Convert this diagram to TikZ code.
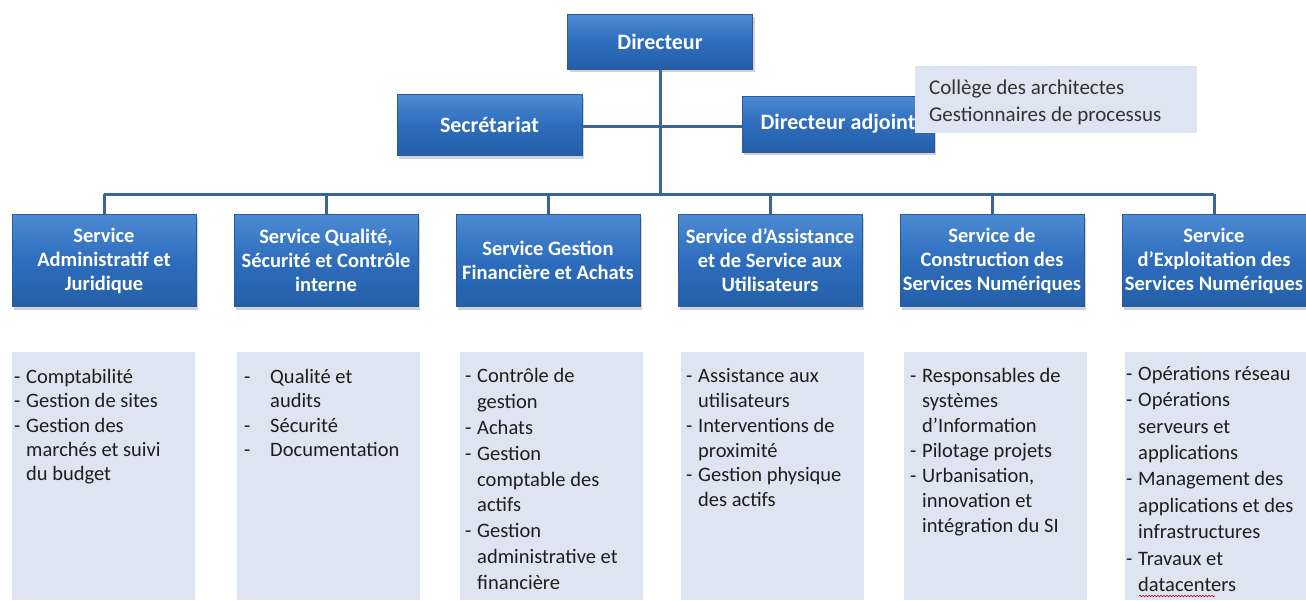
\documentclass[tikz,border=0pt]{standalone}
\usepackage{fontspec}
\setmainfont{Carlito}
\usetikzlibrary{shadows,decorations.pathmorphing}
\definecolor{linec}{HTML}{3A6598}
\definecolor{boxtop}{HTML}{4C8AD2}
\definecolor{boxmid}{HTML}{2E6DBD}
\definecolor{boxbot}{HTML}{245FA8}
\definecolor{boxedge}{HTML}{2A5C9A}
\definecolor{lightbg}{HTML}{DCE5F1}
\definecolor{txtc}{HTML}{1E1E1E}
\newcommand\dsh{\makebox[12pt][l]{-}}
\newcommand\ind{\hspace*{12pt}}
\newcommand\dshw{\makebox[26pt][l]{-}}
\newcommand\indw{\hspace*{26pt}}
\begin{document}
\begin{tikzpicture}[x=1pt,y=-1pt,
  darkbox/.style={draw=boxedge,line width=0.6pt,top color=boxtop,bottom color=boxbot,middle color=boxmid,
    text=white,font=\fontsize{22}{24}\selectfont\bfseries,align=center,inner sep=1pt,
    drop shadow={opacity=0.35,shadow xshift=2pt,shadow yshift=-3pt}},
  svcbox/.style={darkbox,minimum width=184pt,minimum height=92pt,
    font=\fontsize{20.5}{24}\selectfont\bfseries},
  lightbox/.style={fill=lightbg,draw=none},
  listtext/.style={anchor=north west,inner sep=0pt,align=left,text=txtc,
    font=\fontsize{20.5}{24.3}\selectfont},
  conn/.style={draw=linec,line width=3pt}]
\useasboundingbox (0,0) rectangle (1306,600);
\fill[white] (0,0) rectangle (1306,600);

% connectors
\coordinate (bus) at (660,194);
\coordinate (dirb) at (660,69);
\coordinate (secr) at (582,126);
\coordinate (adjl) at (742,126);
\draw[conn] (secr) -- (adjl);
\draw[conn] (dirb) -- (bus);

% top level
\node[darkbox,minimum width=185pt,minimum height=55pt] (dir) at (660,41.5) {Directeur};
\node[darkbox,minimum width=185pt,minimum height=61pt] (sec) at (489.5,125) {Secrétariat};
\node[darkbox,minimum width=192pt,minimum height=56pt] (adj) at (838,124) {Directeur adjoint};

% services
\node[svcbox] (s1) at (104,260.5) {Service\\Administratif et\\Juridique};
\node[svcbox] (s2) at (326,260.5) {Service Qualité,\\Sécurité et Contrôle\\interne};
\node[svcbox] (s3) at (548,260.5) {Service Gestion\\Financière et Achats};
\node[svcbox] (s4) at (770,260.5) {Service d’Assistance\\et de Service aux\\Utilisateurs};
\node[svcbox] (s5) at (992,260.5) {Service de\\Construction des\\Services Numériques};
\node[svcbox] (s6) at (1214,260.5) {Service\\d’Exploitation des\\Services Numériques};

\draw[conn] (s1.north |- bus) -- (s6.north |- bus);
\foreach \s in {s1,s2,s3,s4,s5,s6}{\draw[conn] (\s.north) -- (\s.north |- bus);}

% college box
\node[lightbox,minimum width=282pt,minimum height=67pt,anchor=north west,inner sep=0pt] (col) at (915,66) {};
\node[listtext,font=\fontsize{21}{27}\selectfont,text=black!80] (colt) at (929,80) {Collège des architectes\\Gestionnaires de processus};

% light boxes
\node[lightbox,anchor=north west,minimum width=183pt,minimum height=248pt,inner sep=0pt] (l1) at (12,352) {};
\node[lightbox,anchor=north west,minimum width=183pt,minimum height=248pt,inner sep=0pt] (l2) at (237,352) {};
\node[lightbox,anchor=north west,minimum width=183pt,minimum height=248pt,inner sep=0pt] (l3) at (460,352) {};
\node[lightbox,anchor=north west,minimum width=183pt,minimum height=248pt,inner sep=0pt] (l4) at (681,352) {};
\node[lightbox,anchor=north west,minimum width=183pt,minimum height=248pt,inner sep=0pt] (l5) at (904,352) {};
\node[lightbox,anchor=north west,minimum width=181pt,minimum height=248pt,inner sep=0pt] (l6) at (1125,352) {};

\node[listtext] (t1) at (14,369) {\dsh Comptabilité\\\dsh Gestion de sites\\\dsh Gestion des\\\ind marchés et suivi\\\ind du budget};
\node[listtext] (t2) at (244,369) {\dshw Qualité et\\\indw audits\\\dshw Sécurité\\\dshw Documentation};
\node[listtext,font=\fontsize{20.5}{25.9}\selectfont] (t3) at (465,368) {\dsh Contrôle de\\\ind gestion\\\dsh Achats\\\dsh Gestion\\\ind comptable des\\\ind actifs\\\dsh Gestion\\\ind administrative et\\\ind financière};
\node[listtext,font=\fontsize{20.5}{24.9}\selectfont] (t4) at (686,368) {\dsh Assistance aux\\\ind utilisateurs\\\dsh Interventions de\\\ind proximité\\\dsh Gestion physique\\\ind des actifs};
\node[listtext,font=\fontsize{20.5}{25}\selectfont] (t5) at (910,368) {\dsh Responsables de\\\ind systèmes\\\ind d’Information\\\dsh Pilotage projets\\\dsh Urbanisation,\\\ind innovation et\\\ind intégration du SI};
\node[listtext,font=\fontsize{20.5}{26.4}\selectfont] (t6) at (1126,366) {\dsh Opérations réseau\\\dsh Opérations\\\ind serveurs et\\\ind applications\\\dsh Management des\\\ind applications et des\\\ind infrastructures\\\dsh Travaux et\\\ind datacenters};
% spell-check squiggle under "datacenters"
\coordinate (sqa) at (1139,596);
\coordinate (sqb) at (1215,596);
\draw[red!75!black,line width=0.6pt,decorate,decoration={snake,amplitude=0.8pt,segment length=3pt}] (sqa) -- (sqb);
\end{tikzpicture}
\end{document}
